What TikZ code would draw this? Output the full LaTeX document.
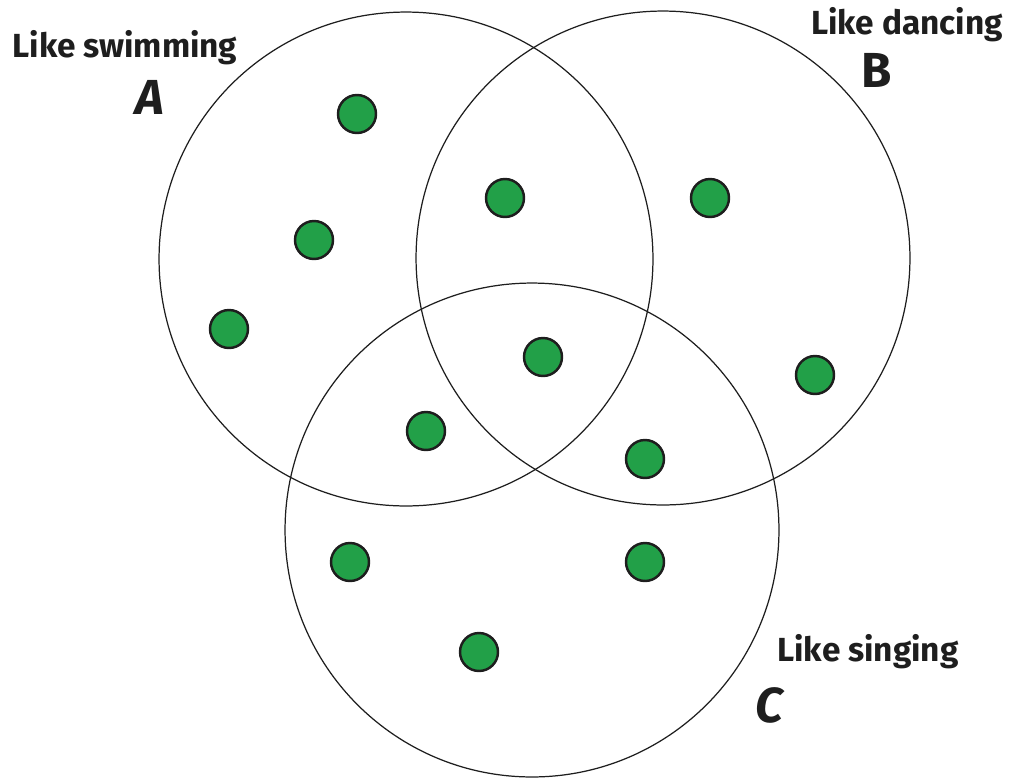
\documentclass[tikz,border=0pt]{standalone}
\usepackage{fontspec}
\setsansfont{Fira Sans}
\usetikzlibrary{positioning}
\definecolor{DT}{RGB}{34,160,72}
\definecolor{OL}{RGB}{30,30,30}
\tikzset{
  % set circle
  setc/.style={
    circle, draw=OL, line width=0.7pt,
    minimum size=9.88cm, inner sep=0pt
  },
  % member dot
  memb/.style={
    circle, draw=OL, fill=DT, line width=1.4pt,
    minimum size=0.76cm, inner sep=0pt
  },
  % set caption
  capt/.style={
    font=\fontsize{19}{21}\selectfont\bfseries\sffamily, text=OL,
    inner sep=0pt
  },
  % set letter
  letr/.style={
    font=\fontsize{28}{30}\selectfont\bfseries\sffamily, text=OL,
    inner sep=0pt
  },
}
\begin{document}
\begin{tikzpicture}[x=0.02cm, y=-0.02cm]
\useasboundingbox (0,0) rectangle (1013,778);

% ── Sets ─────────────────────────────────────────────────────────────────────
\node[setc] (setA) at (406,259) {};
\node[setc] (setB) at (663,258) {};
\node[setc] (setC) at (532,530) {};

% ── Captions ─────────────────────────────────────────────────────────────────
\node[capt] (capA) at (125,48) {Like swimming};
\node[letr, font=\fontsize{28}{30}\selectfont\bfseries\itshape\sffamily] (letA) at (150,97) {A};
\node[capt] (capB) at (907,25) {Like dancing};
\node[letr] (letB) at (877,70) {B};
\node[capt] (capC) at (868,652) {Like singing};
\node[letr, font=\fontsize{28}{30}\selectfont\bfseries\itshape\sffamily] (letC) at (769,705) {C};

% ── Members ──────────────────────────────────────────────────────────────────
\node[memb] (m1)  at (357,114) {};
\node[memb] (m2)  at (314,240) {};
\node[memb] (m3)  at (229,329) {};
\node[memb] (m4)  at (505,198) {};
\node[memb] (m5)  at (710,198) {};
\node[memb] (m6)  at (815,375) {};
\node[memb] (m7)  at (543,357) {};
\node[memb] (m8)  at (426,431) {};
\node[memb] (m9)  at (645,459) {};
\node[memb] (m10) at (350,562) {};
\node[memb] (m11) at (645,562) {};
\node[memb] (m12) at (479,652) {};

\end{tikzpicture}
\end{document}
